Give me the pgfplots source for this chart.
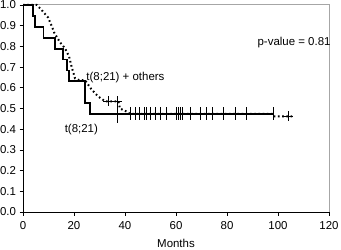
\documentclass[border=0pt]{standalone}
\usepackage{fontspec}
\setmainfont{Liberation Sans}
\usepackage{pgfplots}
\pgfplotsset{compat=1.18}
\begin{document}
\begin{tikzpicture}
\path[use as bounding box] (-23bp,-38bp) rectangle (318bp,212bp);
\begin{axis}[
  at={(0,0)}, anchor=south west,
  scale only axis, width=306bp, height=207bp,
  xmin=0, xmax=120, ymin=0, ymax=1,
  xtick={0,20,...,120},
  ytick={0,0.1,...,1.0},
  yticklabel style={/pgf/number format/.cd,fixed,fixed zerofill,precision=1},
  /pgf/number format/assume math mode=true,
  axis x line*=bottom, axis y line*=left,
  axis line style={black, line width=0.8bp},
  tick style={black, line width=0.6bp},
  tick align=outside, major tick length=3.5bp,
  ticklabel style={font=\fontsize{11.5}{12}\selectfont},
  xticklabel style={yshift=-2bp},
  xlabel={Months},
  xlabel style={font=\fontsize{11.5}{12}\selectfont, yshift=-3bp},
  clip=false,
]
\draw[gray!70, line width=1bp] (rel axis cs:0,1) -- (rel axis cs:1,1) -- (rel axis cs:1,0);
% t(8;21) + others (dotted)
\addplot[black, line width=2bp, dash pattern=on 1.6bp off 2.6bp] coordinates {
(0,1.0) (5.4,1.0) (7.3,0.976) (9.8,0.94) (11.2,0.90) (12.3,0.865) (14.5,0.82)
(16.5,0.79) (18.1,0.75) (19.1,0.70) (20.4,0.646) (22,0.637) (24.3,0.637)
(27,0.59) (29.5,0.558) (32.2,0.535) (37.4,0.535) (38,0.50) (40.7,0.485)
(42,0.474) (98,0.474) (98.5,0.462) (105.5,0.462)
};
\addplot[only marks, mark=+, mark size=5bp, black, line width=0.6bp] coordinates {
(33.5,0.535) (37,0.535) (104,0.462)
};
\addplot[only marks, mark=|, mark size=6.5bp, black, line width=0.6bp] coordinates {
(42,0.474) (45.6,0.474) (48.5,0.474) (51.8,0.474)
(56,0.474) (62.6,0.474) (69.4,0.474) (74.4,0.474) (87.7,0.474)
};
% t(8;21) (solid)
\addplot[black, line width=1.8bp, const plot] coordinates {
(0,1.0) (4,0.947) (4.7,0.895) (8,0.842) (12.5,0.789) (15.8,0.737)
(17.1,0.684) (18,0.632) (24.3,0.526) (26.3,0.474) (98,0.474)
};
\addplot[only marks, mark=|, mark size=6.5bp, black, line width=0.6bp] coordinates {
(44,0.474) (47.6,0.474) (49.8,0.474) (53.7,0.474) (60,0.474)
(61,0.474) (61.8,0.474) (65.5,0.474) (72,0.474) (78.6,0.474) (83.1,0.474) (98,0.474)
};
\addplot[only marks, mark=|, mark size=9bp, black, line width=0.6bp] coordinates {
(37,0.474)
};
\node[font=\fontsize{11.5}{12}\selectfont, anchor=west] at (axis cs:23.5,0.652) {t(8;21) + others};
\node[font=\fontsize{11.5}{12}\selectfont, anchor=west] at (axis cs:15,0.396) {t(8;21)};
\node[font=\fontsize{11.5}{12}\selectfont] at (axis cs:106.3,0.82) {p-value = 0.81};
\end{axis}
\end{tikzpicture}
\end{document}
